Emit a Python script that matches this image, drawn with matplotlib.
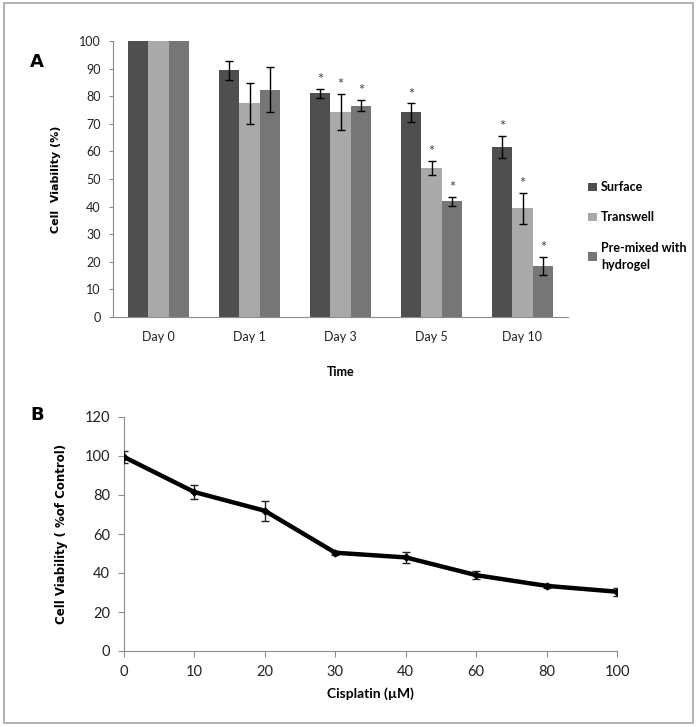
import numpy as np
import matplotlib.pyplot as plt
from matplotlib.patches import Rectangle

# ---------------- panel A data
days = ["Day 0", "Day 1", "Day 3", "Day 5", "Day 10"]
surface = [100, 89.4, 81.1, 74.1, 61.6]
surface_err = [0, 3.4, 1.6, 3.3, 4.0]
transwell = [100, 77.4, 74.4, 54.0, 39.4]
transwell_err = [0, 7.4, 6.5, 2.7, 5.7]
premixed = [100, 82.4, 76.6, 41.9, 18.5]
premixed_err = [0, 8.0, 2.0, 1.6, 3.2]
stars = [False, False, True, True, True]

# ---------------- panel B data
cisplatin = ["0", "10", "20", "30", "40", "60", "80", "100"]
viability = [99.5, 81.5, 71.9, 50.4, 48.0, 38.9, 33.4, 30.4]
viability_err = [3.0, 3.8, 5.0, 1.0, 2.7, 2.2, 1.2, 2.0]

tick_font = "Lato"
axis_gray = "#8c8c8c"

fig = plt.figure(figsize=(6.98, 7.27), dpi=100)

# gray frame round the whole figure
fig.patches.append(Rectangle((4 / 698, 1 - 723 / 727), 689 / 698, 720 / 727,
                             transform=fig.transFigure, fill=False,
                             edgecolor="#a6a6a6", lw=1.2))

# ================= A
axA = fig.add_axes([113 / 698, 1 - 317 / 727, 455 / 698, 276 / 727])
x = np.arange(len(days))
w = 0.225
series = [(surface, surface_err, "#4f4f4f", "Surface"),
          (transwell, transwell_err, "#a9a9a9", "Transwell"),
          (premixed, premixed_err, "#767676", "Pre-mixed with\nhydrogel")]
for i, (vals, errs, col, lab) in enumerate(series):
    pos = x + (i - 1) * w
    yerr = [e if e > 0 else np.nan for e in errs]
    axA.bar(pos, vals, w, color=col, label=lab, zorder=2)
    axA.errorbar(pos, vals, yerr=yerr, fmt="none", ecolor="black",
                 elinewidth=1, capsize=3, capthick=1, zorder=3)
    for j in range(len(days)):
        if stars[j]:
            axA.text(pos[j], vals[j] + errs[j] + 3.2, "*", ha="center",
                     va="center", fontsize=10.5, color="#444444",
                     family=tick_font)

axA.set_xlim(-0.5, len(days) - 0.5)
axA.set_ylim(0, 100)
axA.set_yticks(np.arange(0, 101, 10))
axA.set_xticks(x)
axA.set_xticklabels(days)
axA.tick_params(axis="x", length=0, pad=10)
axA.tick_params(axis="y", length=3, color=axis_gray, pad=6)
for lab in axA.get_xticklabels() + axA.get_yticklabels():
    lab.set_family(tick_font)
    lab.set_fontsize(9)
    lab.set_color("#222222")
for s in ["top", "right"]:
    axA.spines[s].set_visible(False)
for s in ["left", "bottom"]:
    axA.spines[s].set_color(axis_gray)
axA.set_ylabel("Cell  Viability (%)", fontsize=8, fontweight="bold", labelpad=13)
axA.set_xlabel("Time", fontsize=9, fontweight="bold", family=tick_font, labelpad=17)

leg = axA.legend(loc="center left", bbox_to_anchor=(1.02, 0.33), frameon=False,
                 handlelength=0.7, handleheight=0.7, handletextpad=0.3,
                 labelspacing=1.45, prop={"family": tick_font, "weight": "bold", "size": 9})
for t in leg.get_texts():
    t.set_linespacing(1.5)

fig.text(37 / 698, 1 - 62 / 727, "A", fontsize=13, fontweight="bold",
         ha="center", va="center")

# ================= B
axB = fig.add_axes([124 / 698, 1 - 651 / 727, 493 / 698, 234 / 727])
xb = np.arange(len(cisplatin))
axB.errorbar(xb, viability, yerr=viability_err, color="black", lw=3.2,
             marker="D", markersize=3.5, ecolor="#222222", elinewidth=1,
             capsize=3, capthick=1, zorder=3)
axB.set_xlim(0, len(cisplatin) - 1)
axB.set_ylim(0, 120)
axB.set_yticks(np.arange(0, 121, 20))
axB.set_xticks(xb)
axB.set_xticklabels(cisplatin)
axB.tick_params(axis="both", length=4, color=axis_gray, pad=6)
for lab in axB.get_xticklabels() + axB.get_yticklabels():
    lab.set_family(tick_font)
    lab.set_fontsize(10.5)
    lab.set_color("#222222")
for s in ["top", "right"]:
    axB.spines[s].set_visible(False)
for s in ["left", "bottom"]:
    axB.spines[s].set_color(axis_gray)
axB.set_ylabel("Cell Viability ( %of Control)", fontsize=8.5, fontweight="bold",
               labelpad=12)
axB.set_xlabel("Cisplatin (\u00b5M)", fontsize=10, fontweight="bold",
               family=tick_font, labelpad=6)

fig.text(37 / 698, 1 - 415 / 727, "B", fontsize=13, fontweight="bold",
         ha="center", va="center")

fig.savefig("out.png", dpi=100)
